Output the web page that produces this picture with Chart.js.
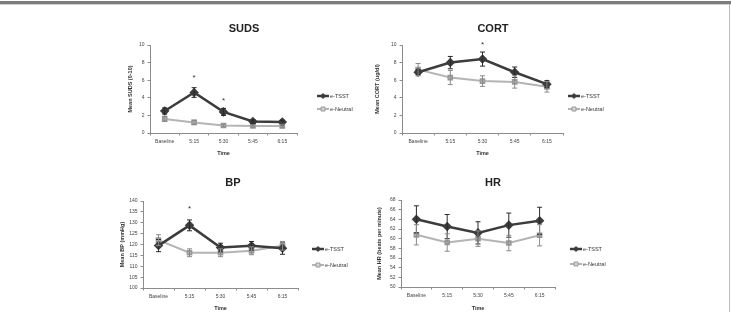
<!DOCTYPE html>
<html>
<head>
<meta charset="utf-8">
<script src="https://cdn.jsdelivr.net/npm/chart.js@4.4.1/dist/chart.umd.min.js"></script>
<style>
  html, body { margin: 0; padding: 0; background: #fff; }
  body { width: 731px; height: 312px; position: relative; overflow: hidden; }
  #topbar { position: absolute; left: 0; top: 1px; width: 731px; height: 3px; background: #7c7c7c; }
  #topline { position: absolute; left: 0; top: 4px; width: 731px; height: 1px; background: #cfcfcf; }
  #rightline { position: absolute; left: 729px; top: 4px; width: 1px; height: 308px; background: #bdbdbd; }
  canvas { position: absolute; }
</style>
</head>
<body>
<div id="topbar"></div><div id="topline"></div><div id="rightline"></div>
<canvas id="suds"></canvas>
<canvas id="cort"></canvas>
<canvas id="bp"></canvas>
<canvas id="hr"></canvas>
<script>
const times = ['Baseline', '5:15', '5:30', '5:45', '6:15'];
const seriesNames = ['e-TSST', 'e-Neutral'];

// SUDS
const sudsTsst = [2.5, 4.6, 2.4, 1.3, 1.25];
const sudsTsstErr = [0.35, 0.55, 0.4, 0.2, 0.2];
const sudsNeutral = [1.6, 1.2, 0.85, 0.8, 0.8];
const sudsNeutralErr = [0.3, 0.25, 0.15, 0.15, 0.2];
const sudsStars = [null, 6.5, 3.9, null, null];

// CORT
const cortTsst = [6.9, 8.0, 8.4, 6.9, 5.55];
const cortTsstErr = [0.3, 0.7, 0.8, 0.6, 0.4];
const cortNeutral = [7.2, 6.3, 5.9, 5.8, 5.25];
const cortNeutralErr = [0.7, 0.8, 0.6, 0.7, 0.6];
const cortStars = [null, null, 10.3, null, null];

// BP
const bpTsst = [119.5, 128.8, 118.6, 119.4, 118.3];
const bpTsstErr = [2.8, 2.5, 2.0, 2.0, 2.8];
const bpNeutral = [122, 116.2, 116.2, 117.1, 119.4];
const bpNeutralErr = [2.5, 1.8, 1.8, 1.8, 2.0];
const bpStars = [null, 137.2, null, null, null];

// HR
const hrTsst = [64, 62.5, 61.2, 62.8, 63.7];
const hrTsstErr = [2.8, 2.5, 2.3, 2.5, 2.8];
const hrNeutral = [60.8, 59.2, 60, 59.1, 60.7];
const hrNeutralErr = [2.1, 1.8, 1.6, 1.6, 2.2];
const hrStars = [null, null, null, null, null];

const FONT = "'Liberation Sans', Arial, sans-serif";
const darkCol = '#3c3c3c';
const lightCol = '#b4b4b4';

const decor = {
  id: 'decor',
  afterDatasetsDraw(chart, args, opts) {
    const ctx = chart.ctx, xs = chart.scales.x, ys = chart.scales.y;
    chart.data.datasets.forEach((ds) => {
      ctx.save();
      ctx.strokeStyle = ds.errColor;
      ctx.lineWidth = 1;
      ds.data.forEach((v, j) => {
        const e = ds.errors[j];
        const px = xs.getPixelForValue(j);
        const t = ys.getPixelForValue(v + e), b = ys.getPixelForValue(v - e);
        ctx.beginPath();
        ctx.moveTo(px, t); ctx.lineTo(px, b);
        ctx.moveTo(px - 2.5, t); ctx.lineTo(px + 2.5, t);
        ctx.moveTo(px - 2.5, b); ctx.lineTo(px + 2.5, b);
        ctx.stroke();
      });
      ctx.restore();
    });
    // significance stars
    ctx.save();
    ctx.fillStyle = '#333';
    ctx.font = '8px ' + FONT;
    ctx.textAlign = 'center';
    ctx.textBaseline = 'middle';
    opts.stars.forEach((s, j) => {
      if (s == null) return;
      ctx.fillText('*', xs.getPixelForValue(j), ys.getPixelForValue(s) + 2);
    });
    ctx.restore();
  },
  afterDraw(chart, args, opts) {
    const ctx = chart.ctx;
    ctx.save();
    ctx.fillStyle = '#222';
    ctx.font = 'bold 11px ' + FONT;
    ctx.textAlign = 'center';
    ctx.textBaseline = 'middle';
    ctx.fillText(opts.title, opts.titleX, opts.titleY);
    // legend
    ctx.font = '5.5px ' + FONT;
    ctx.textAlign = 'left';
    chart.data.datasets.forEach((ds, i) => {
      const lx = opts.legendX, ly = opts.legendY[i];
      ctx.strokeStyle = ds.borderColor;
      ctx.lineWidth = ds.borderWidth;
      ctx.beginPath(); ctx.moveTo(lx, ly); ctx.lineTo(lx + 12, ly); ctx.stroke();
      ctx.fillStyle = ds.pointBackgroundColor;
      ctx.strokeStyle = ds.pointBorderColor;
      ctx.lineWidth = 1;
      ctx.beginPath();
      if (ds.pointStyle === 'rectRot') {
        ctx.moveTo(lx + 6, ly - 2.5); ctx.lineTo(lx + 8.5, ly); ctx.lineTo(lx + 6, ly + 2.5); ctx.lineTo(lx + 3.5, ly);
        ctx.closePath();
      } else {
        ctx.rect(lx + 4, ly - 2, 4, 4);
      }
      ctx.fill(); ctx.stroke();
      ctx.fillStyle = '#333';
      ctx.fillText(ds.label, lx + 13, ly + 0.5);
    });
    ctx.restore();
  }
};

function makePanel(id, p) {
  const cv = document.getElementById(id);
  const W = p.box[2] - p.box[0], H = p.box[3] - p.box[1];
  cv.width = W; cv.height = H;
  cv.style.left = p.box[0] + 'px'; cv.style.top = p.box[1] + 'px';
  const yW = p.area[0] - p.box[0];
  const xH = p.box[3] - p.area[3];
  const axisFont = { family: FONT, size: 5.5, weight: 'bold' };
  new Chart(cv, {
    type: 'line',
    data: {
      labels: times,
      datasets: [
        {
          label: seriesNames[0], data: p.tsst, errors: p.tsstErr, errColor: '#2a2a2a',
          borderColor: darkCol, borderWidth: 2.5, pointStyle: 'rectRot', pointRadius: 3,
          pointBackgroundColor: darkCol, pointBorderColor: darkCol, tension: 0, order: 1
        },
        {
          label: seriesNames[1], data: p.neutral, errors: p.neutralErr, errColor: '#8a8a8a',
          borderColor: lightCol, borderWidth: 2, pointStyle: 'rect', pointRadius: 2.6,
          pointBackgroundColor: '#d4d4d4', pointBorderColor: '#9a9a9a', tension: 0, order: 2
        }
      ]
    },
    options: {
      responsive: false,
      animation: false,
      devicePixelRatio: 1,
      layout: { padding: { top: p.area[1] - p.box[1], right: p.box[2] - p.area[2], bottom: 0, left: 0 } },
      plugins: {
        legend: { display: false },
        tooltip: { enabled: false },
        decor: {
          stars: p.stars, title: p.title,
          titleX: p.titlePos[0] - p.box[0], titleY: p.titlePos[1] - p.box[1],
          legendX: p.legendPos[0] - p.box[0],
          legendY: [p.legendPos[1] - p.box[1], p.legendPos[2] - p.box[1]]
        }
      },
      scales: {
        x: {
          offset: true,
          grid: { display: true, drawOnChartArea: false, offset: true, color: '#8c8c8c', tickLength: 2.5 },
          border: { display: true, color: '#8c8c8c', width: 1 },
          ticks: { color: '#444', font: { family: FONT, size: 5 }, padding: 3, maxRotation: 0 },
          title: { display: true, text: 'Time', color: '#333', font: axisFont, padding: { top: 0, bottom: p.timePad } },
          afterFit(s) { s.height = xH; }
        },
        y: {
          min: p.yMin, max: p.yMax,
          grid: { display: true, drawOnChartArea: false, color: '#8c8c8c', tickLength: 2.5 },
          border: { display: true, color: '#8c8c8c', width: 1 },
          ticks: { stepSize: p.step, color: '#444', font: { family: FONT, size: 5 }, padding: 3 },
          title: { display: true, text: p.yTitle, color: '#333', font: axisFont, padding: { top: p.yTitleX - p.box[0] - 3.3, bottom: 0 } },
          afterFit(s) { s.width = yW; }
        }
      }
    },
    plugins: [decor]
  });
}

makePanel('suds', {
  box: [112, 15, 366, 160], area: [150, 45, 297, 133],
  title: 'SUDS', titlePos: [244, 29], legendPos: [317, 96, 109], yTitleX: 130, timePad: 3,
  tsst: sudsTsst, tsstErr: sudsTsstErr, neutral: sudsNeutral, neutralErr: sudsNeutralErr, stars: sudsStars,
  yMin: 0, yMax: 10, step: 2, yTitle: 'Mean SUDS (0-10)'
});
makePanel('cort', {
  box: [368, 15, 640, 160], area: [402, 45, 563, 133],
  title: 'CORT', titlePos: [493, 29], legendPos: [568, 96, 109], yTitleX: 377, timePad: 3,
  tsst: cortTsst, tsstErr: cortTsstErr, neutral: cortNeutral, neutralErr: cortNeutralErr, stars: cortStars,
  yMin: 0, yMax: 10, step: 2, yTitle: 'Mean CORT (ug/dl)'
});
makePanel('bp', {
  box: [105, 165, 366, 312], area: [143, 201, 298, 288],
  title: 'BP', titlePos: [233, 183], legendPos: [312, 249, 265], yTitleX: 122, timePad: 0.5,
  tsst: bpTsst, tsstErr: bpTsstErr, neutral: bpNeutral, neutralErr: bpNeutralErr, stars: bpStars,
  yMin: 100, yMax: 140, step: 5, yTitle: 'Mean BP (mmHg)'
});
makePanel('hr', {
  box: [368, 165, 640, 312], area: [401, 200, 555, 287],
  title: 'HR', titlePos: [493, 183], legendPos: [570, 249, 264], yTitleX: 379, timePad: 0.5,
  tsst: hrTsst, tsstErr: hrTsstErr, neutral: hrNeutral, neutralErr: hrNeutralErr, stars: hrStars,
  yMin: 50, yMax: 68, step: 2, yTitle: 'Mean HR (beats per minute)'
});
</script>
</body>
</html>
